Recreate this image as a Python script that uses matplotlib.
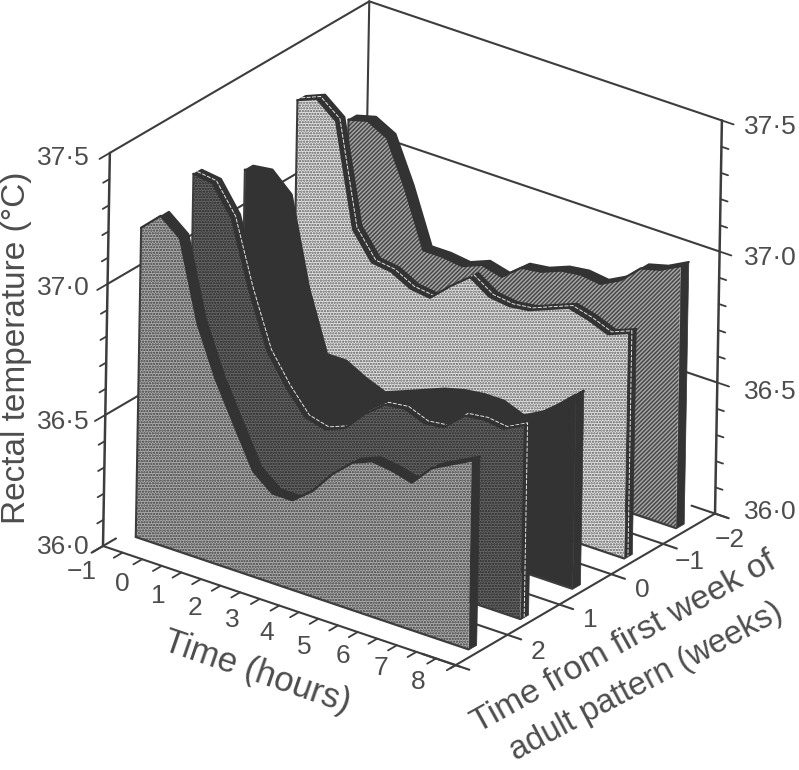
#!/usr/bin/env python3
"""Rectal temperature by hour, one slice per week around the adult pattern."""

import matplotlib
matplotlib.use("Agg")
import matplotlib.pyplot as plt
import numpy as np
from mpl_toolkits.mplot3d import proj3d
from mpl_toolkits.mplot3d.art3d import Poly3DCollection

plt.rcParams["font.family"] = ["Liberation Sans", "DejaVu Sans"]
plt.rcParams["hatch.linewidth"] = 1.1

W, H = 799, 770
INK = "#3d3d3d"
TEXT = "#4d4d4d"

hours = [-0.72, -0.23, 0.27, 0.75, 1.24, 1.73, 2.23, 2.73, 3.24,
         3.74, 4.24, 4.75, 5.25, 5.75, 6.26, 6.76, 7.26, 7.77]
weeks = [-2, -1, 0, 1, 2]

temp_wk_m2 = [37.13, 37.15, 37.11, 36.94, 36.73, 36.73, 36.72, 36.75, 36.73,
              36.79, 36.80, 36.83, 36.84, 36.83, 36.87, 36.94, 36.96, 37.00]
temp_wk_m1 = [37.32, 37.35, 37.29, 36.90, 36.80, 36.79, 36.75, 36.74, 36.81,
              36.87, 36.82, 36.81, 36.82, 36.85, 36.88, 36.86, 36.83, 36.86]
temp_wk_0 = [37.17, 37.18, 37.11, 36.78, 36.55, 36.55, 36.51, 36.48, 36.51,
             36.54, 36.57, 36.59, 36.60, 36.60, 36.57, 36.61, 36.67, 36.74]
temp_wk_1 = [37.27, 37.26, 37.15, 36.90, 36.69, 36.58, 36.49, 36.47, 36.50,
             36.58, 36.64, 36.65, 36.62, 36.63, 36.70, 36.71, 36.70, 36.74]
temp_wk_2 = [37.18, 37.25, 37.19, 36.89, 36.70, 36.55, 36.40, 36.34, 36.34,
             36.40, 36.49, 36.56, 36.59, 36.58, 36.56, 36.64, 36.68, 36.72]
temps = [temp_wk_m2, temp_wk_m1, temp_wk_0, temp_wk_1, temp_wk_2]

# back to front: background, dot colour, hatch, pale line along the ribbon
STYLES = [
    ("#a8a8a8", "#484848", "////////", False),
    ("#e4e4e4", "#5a5a5a", "......", True),
    ("#333333", "#333333", None, False),
    ("#666666", "#262626", "......", True),
    ("#adadad", "#3c3c3c", "......", False),
]

T_MIN, T_MAX = -1, 8
Z_MIN, Z_MAX = 36.0, 37.5
WK_FRONT, WK_BACK = 2.46, -2.54
DEPTH = 0.15     # slice thickness, in weeks

fig = plt.figure(figsize=(W / 100, H / 100), dpi=100)
ax = fig.add_axes([0, 0, 1, 1], projection="3d", computed_zorder=False)
ax.set_proj_type("ortho")
ax.view_init(elev=26.1, azim=-54.1, roll=-1.0)
ax.set_box_aspect((1, 1, 1))
ax.set_axis_off()


def line(ts, ws, zs, z, lw=1.5, color=INK, **kw):
    ax.plot(ts, ws, zs, color=color, lw=lw, zorder=z,
            solid_capstyle="round", **kw)


# walls
for zv in (36.5, 37.0, 37.5):
    line([T_MIN, T_MIN], [WK_FRONT, WK_BACK], [zv, zv], 1)
    line([T_MIN, T_MAX], [WK_BACK, WK_BACK], [zv, zv], 1)
line([T_MIN, T_MIN], [WK_FRONT, WK_FRONT], [Z_MIN, Z_MAX], 1, lw=1.8)
line([T_MIN, T_MIN], [WK_BACK, WK_BACK], [Z_MIN, Z_MAX], 1)
line([T_MAX, T_MAX], [WK_BACK, WK_BACK], [Z_MIN, Z_MAX], 1, lw=1.8)
line([T_MIN, T_MIN], [WK_FRONT, WK_FRONT - 0.25], [Z_MIN, Z_MIN], 1)

# temperature ticks on both vertical edges
for zv in np.arange(36.0, 37.51, 0.1):
    major = abs(zv * 2 - round(zv * 2)) < 1e-6
    line([T_MIN, T_MIN], [WK_FRONT, WK_FRONT + (0.2 if major else 0.12)],
         [zv, zv], 1, lw=1.3)
    line([T_MAX, T_MAX + (0.3 if major else 0.18)], [WK_BACK, WK_BACK],
         [zv, zv], 1, lw=1.3)

# floor axes
line([T_MIN, T_MAX + 0.1], [WK_FRONT, WK_FRONT], [Z_MIN, Z_MIN], 20)
line([T_MAX, T_MAX], [WK_FRONT + 0.1, WK_BACK], [Z_MIN, Z_MIN], 20)
for tv in np.arange(T_MIN + 0.5, T_MAX + 0.1, 0.5):
    line([tv, tv], [WK_FRONT, WK_FRONT + 0.17], [Z_MIN, Z_MIN], 20, lw=1.3)
line([T_MIN, T_MIN], [WK_FRONT, WK_FRONT + 0.22], [Z_MIN, Z_MIN], 20)

line([T_MAX - 0.6, T_MAX + 0.35], [WK_BACK, WK_BACK], [Z_MIN, Z_MIN], 2)

# slices, back to front, each followed by the week tick just in front of it
for i, (wk, temp, style) in enumerate(zip(weeks, temps, STYLES)):
    base = 3 + i * 3
    face, dots, hatch, pale = style
    wf, wb = wk + 0.04, wk + 0.04 - DEPTH
    t0, t1 = hours[0], hours[-1]

    ribbon = [(t, wf, v) for t, v in zip(hours, temp)]
    ribbon += [(t, wb, v) for t, v in zip(hours[::-1], temp[::-1])]
    ax.add_collection3d(Poly3DCollection([ribbon], facecolors="#333333",
                                         edgecolors="#333333", linewidths=1.5,
                                         zorder=base))
    side = [(t1, wf, Z_MIN), (t1, wf, temp[-1]),
            (t1, wb, temp[-1]), (t1, wb, Z_MIN)]
    ax.add_collection3d(Poly3DCollection([side], facecolors="#333333",
                                         edgecolors="#333333", linewidths=0.5,
                                         zorder=base))
    if pale:
        wm = (wf + wb) / 2
        ax.plot(hours + [t1], [wm] * 19, temp + [Z_MIN], color="#e6e6e6",
                lw=0.7, ls=(0, (4, 1.5)), zorder=base + 0.5)

    verts = [(t0, wf, Z_MIN)] + [(t, wf, v) for t, v in zip(hours, temp)]
    verts += [(t1, wf, Z_MIN)]
    ax.add_collection3d(Poly3DCollection([verts], facecolors=face,
                                         edgecolors=dots, linewidths=0,
                                         hatch=hatch, zorder=base + 1))
    line([t0, t0], [wf, wf], [Z_MIN, temp[0]], base + 1.5, lw=1.5)
    line([t0, t1], [wf, wf], [Z_MIN, Z_MIN], base + 1.5, lw=1.6)
    line(hours, [wf] * len(hours), temp, base + 1.5, lw=1.6, color="#333333")

    wt = wk + 0.46
    line([T_MAX - 0.85, T_MAX + 0.35], [wt, wt], [Z_MIN, Z_MIN], base + 2)

ax.set_xlim(T_MIN, T_MAX)
ax.set_ylim(WK_FRONT, WK_BACK)
ax.set_zlim(Z_MIN, Z_MAX)


def to_px(t, w, z):
    X, Y, _ = proj3d.proj_transform(t, w, z, ax.get_proj())
    return ax.transData.transform((X, Y))


def place(side, x0, y0):
    ax.set_position([x0 / W, y0 / H, side / W, side / H])
    ax.apply_aspect()


# size and shift the square axes so the floor corners land where they belong
front_px = np.array([103.0, H - 546.0])
right_px = np.array([715.0, H - 513.0])
side = 700.0
place(side, 0, 0)
span = np.linalg.norm(to_px(T_MAX, WK_BACK, Z_MIN) - to_px(T_MIN, WK_FRONT, Z_MIN))
side *= np.linalg.norm(right_px - front_px) / span
place(side, 0, 0)
shift = front_px - to_px(T_MIN, WK_FRONT, Z_MIN)
place(side, shift[0], shift[1])


def label(x, y, s, size=19, rot=0):
    fig.text(x / W, 1 - y / H, s, fontsize=size, color=TEXT, rotation=rot,
             ha="center", va="center", rotation_mode="anchor")


for y, s in zip((158, 288, 422, 547), ("37·5", "37·0", "36·5", "36·0")):
    label(63, y, s)
for y, s in zip((127, 258, 392, 512), ("37·5", "37·0", "36·5", "36·0")):
    label(770, y, s)

time_labels = ["\u22121", "0", "1", "2", "3", "4", "5", "6", "7", "8"]
time_x = [82, 122, 158, 195, 232, 267, 304, 343, 381, 418]
time_y = [572, 584, 596, 608, 620, 633, 647, 656, 668, 682]
for x, y, s in zip(time_x, time_y, time_labels):
    label(x, y, s, size=19)

week_labels = ["2", "1", "0", "\u22121", "\u22122"]
week_x = [538, 590, 642, 690, 730]
week_y = [652, 620, 590, 562, 540]
for x, y, s in zip(week_x, week_y, week_labels):
    label(x, y, s, size=19)

label(17, 348, "Rectal temperature (°C)", size=24, rot=90)
label(257, 672, "Time (hours)", size=25, rot=-19)
label(624, 642, "Time from first week of", size=24.5, rot=29)
label(646, 682, "adult pattern (weeks)", size=23.5, rot=28)

fig.savefig("out.png", dpi=100)
